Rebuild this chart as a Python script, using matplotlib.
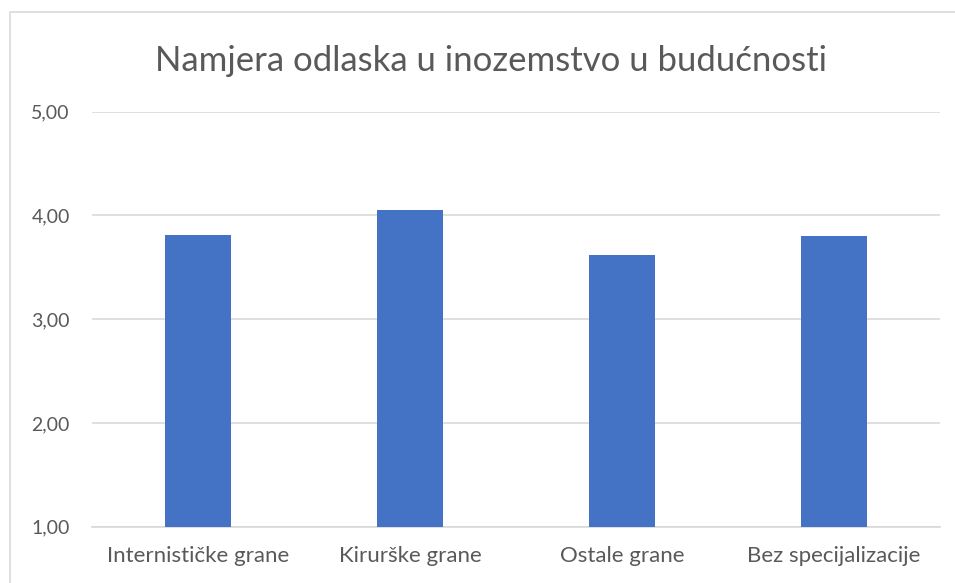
import matplotlib
matplotlib.use("Agg")
import matplotlib.pyplot as plt
from matplotlib.patches import Rectangle
from matplotlib.ticker import FuncFormatter

# values
categories = ["Internističke grane", "Kirurške grane", "Ostale grane", "Bez specijalizacije"]
values = [3.81, 4.05, 3.62, 3.80]
yticks = [1, 2, 3, 4, 5]
title = "Namjera odlaska u inozemstvo u budućnosti"

plt.rcParams['font.family'] = ['Lato', 'DejaVu Sans']
grey = '#595959'

fig = plt.figure(figsize=(9.55, 5.83), dpi=100)
ax = fig.add_axes([92/955, 1 - 526.7/583, (940 - 92)/955, (526.7 - 111.7)/583])

x = range(len(categories))
ax.bar(x, [v - 1 for v in values], bottom=1, width=0.315, color='#4472C4', zorder=3)

ax.set_xlim(-0.5, len(categories) - 0.5)
ax.set_ylim(1, 5)
ax.set_yticks(yticks)
ax.yaxis.set_major_formatter(FuncFormatter(lambda v, p: f"{v:.2f}".replace('.', ',')))
ax.set_xticks(list(x))
ax.set_xticklabels(categories)

ax.grid(axis='y', color='#D9D9D9', linewidth=1.2, zorder=0)
for s in ['top', 'right', 'left']:
    ax.spines[s].set_visible(False)
ax.spines['bottom'].set_color('#D9D9D9')
ax.spines['bottom'].set_linewidth(1.2)
ax.tick_params(axis='both', length=0, colors=grey)
ax.tick_params(axis='y', pad=16, labelsize=14)
ax.tick_params(axis='x', pad=14, labelsize=16)

fig.text(491/955, 1 - 61/583, title, ha='center', va='center', fontsize=25, color=grey)

# chart frame
fig.patches.append(Rectangle((9.5/955, -0.1), 1.2, 1 - 12.5/583 + 0.1, transform=fig.transFigure,
                             fill=False, edgecolor='#D9D9D9', linewidth=1.2))

fig.savefig("out.png", dpi=100)
